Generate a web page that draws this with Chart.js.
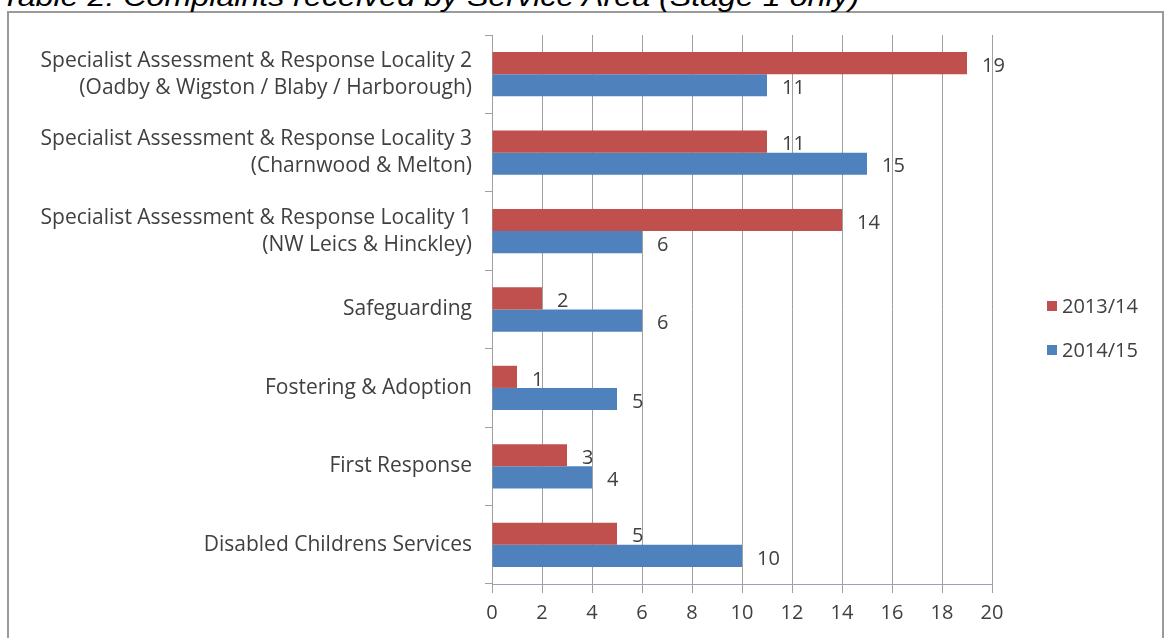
<!DOCTYPE html>
<html>
<head>
<meta charset="utf-8">
<script src="https://cdn.jsdelivr.net/npm/chart.js@4"></script>
<style>
  html, body { margin: 0; padding: 0; background: #fff; overflow: hidden; }
  #wrap { position: relative; width: 1165px; height: 638px; }
  #title {
    position: absolute; left: 1px; top: -17px; white-space: nowrap;
    font: italic 28px/28px "Liberation Sans", Arial, sans-serif; color: #000;
    transform: scaleX(1.15); transform-origin: 0 0;
  }
  #frame {
    position: absolute; left: 7px; top: 11px; width: 1153px; height: 640px;
    border: 2px solid #9a9a9a; background: #fff;
  }
  #box { position: absolute; left: 0; top: 0; width: 1165px; height: 638px; }
</style>
</head>
<body>
<div id="wrap">
  <div id="frame"></div>
  <div id="title">Table 2: Complaints received by Service Area (Stage 1 only)</div>
  <div id="box"><canvas id="chart"></canvas></div>
</div>
<script>
// ── Datos ──
const areas = [
    ['Specialist Assessment & Response Locality 2', '(Oadby & Wigston / Blaby / Harborough)'],
    ['Specialist Assessment & Response Locality 3', '(Charnwood & Melton)'],
    ['Specialist Assessment & Response Locality 1', '(NW Leics & Hinckley)'],
    'Safeguarding',
    'Fostering & Adoption',
    'First Response',
    'Disabled Childrens Services'
];
const years = ['2013/14', '2014/15'];
const complaints1314 = [19, 11, 14, 2, 1, 3, 5];
const complaints1415 = [11, 15, 6, 6, 5, 4, 10];
const xTicks = [0, 2, 4, 6, 8, 10, 12, 14, 16, 18, 20];

const RED = '#C0504D';
const BLUE = '#4F81BD';
const TXT = '#404040';
const FONT = '"Open Sans", Lato, sans-serif';

// ── Etiquetas de valor al final de cada barra ──
const valueLabels = {
    id: 'valueLabels',
    afterDatasetsDraw(chart) {
        const ctx = chart.ctx;
        ctx.save();
        ctx.font = '20px ' + FONT;
        ctx.fillStyle = TXT;
        ctx.textAlign = 'left';
        ctx.textBaseline = 'middle';
        chart.data.datasets.forEach(function (ds, i) {
            chart.getDatasetMeta(i).data.forEach(function (bar, j) {
                ctx.fillText(String(ds.data[j]), bar.x + 15, bar.y + 3);
            });
        });
        ctx.restore();
    }
};

// ── Leyenda a la derecha ──
const sideLegend = {
    id: 'sideLegend',
    afterDraw(chart) {
        const ctx = chart.ctx;
        const x = chart.chartArea.right + 55;
        let y = 306;
        ctx.save();
        ctx.font = '20px ' + FONT;
        ctx.textBaseline = 'middle';
        chart.data.datasets.forEach(function (ds) {
            ctx.fillStyle = ds.backgroundColor;
            ctx.fillRect(x, y - 5, 10, 10);
            ctx.fillStyle = TXT;
            ctx.fillText(ds.label, x + 15, y + 1);
            y += 44;
        });
        ctx.restore();
    }
};

new Chart(document.getElementById('chart'), {
    type: 'bar',
    data: {
        labels: areas,
        datasets: [
            { label: years[0], data: complaints1314, backgroundColor: RED },
            { label: years[1], data: complaints1415, backgroundColor: BLUE }
        ]
    },
    options: {
        indexAxis: 'y',
        responsive: true,
        maintainAspectRatio: false,
        animation: false,
        datasets: { bar: { categoryPercentage: 0.565, barPercentage: 1.0 } },
        layout: { padding: { left: 0, top: 35, right: 173, bottom: 0 } },
        plugins: { legend: { display: false }, tooltip: { enabled: false } },
        scales: {
            x: {
                min: 0, max: 20,
                afterBuildTicks: s => { s.ticks = xTicks.map(v => ({ value: v })); },
                afterFit: s => { s.height = 54; },
                grid: { color: '#a0a0a0', tickLength: 9 },
                border: { color: '#a0a0b4' },
                ticks: { font: { family: FONT, size: 20 }, color: TXT, padding: 8 }
            },
            y: {
                afterFit: s => { s.width = 492; },
                grid: { drawOnChartArea: false, tickLength: 7, color: '#a0a0a0' },
                border: { color: '#a0a0a0' },
                ticks: { font: { family: FONT, size: 21, lineHeight: 1.29 }, color: TXT, padding: 13 }
            }
        }
    },
    plugins: [valueLabels, sideLegend]
});
</script>
</body>
</html>
